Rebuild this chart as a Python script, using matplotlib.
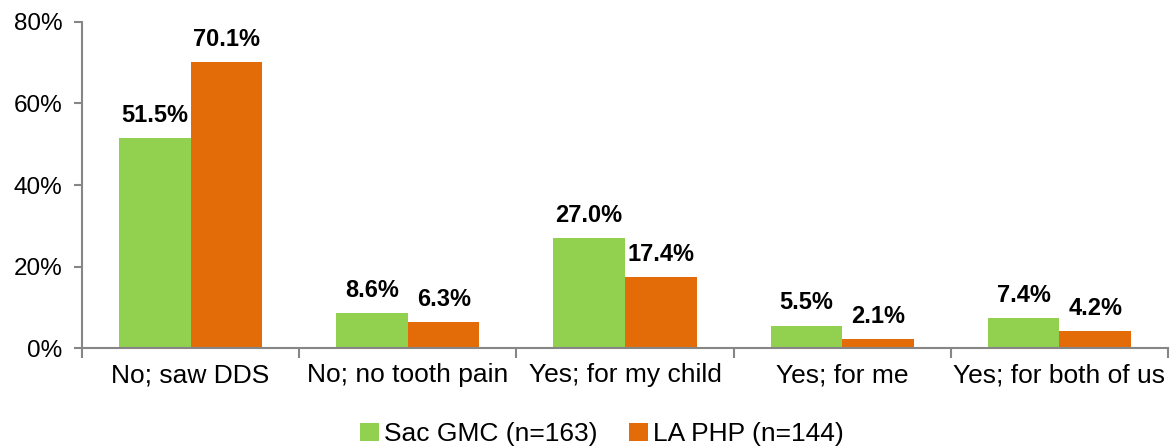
import numpy as np
import matplotlib
matplotlib.use("Agg")
import matplotlib.pyplot as plt
from matplotlib.ticker import FuncFormatter

categories = ["No; saw DDS", "No; no tooth pain", "Yes; for my child", "Yes; for me", "Yes; for both of us"]
sac_gmc = [51.5, 8.6, 27.0, 5.5, 7.4]
la_php = [70.1, 6.3, 17.4, 2.1, 4.2]
series_names = ["Sac GMC (n=163)", "LA PHP (n=144)"]

plt.rcParams['font.family'] = ['Liberation Sans', 'DejaVu Sans']

green = "#92D050"
orange = "#E36C09"
axis_gray = "#868686"

fig = plt.figure(figsize=(11.76, 4.48), dpi=100)
ax = fig.add_axes([82/1176, 1-348/448, (1168-82)/1176, (348-22)/448])

x = np.arange(len(categories))
w = 0.33
b1 = ax.bar(x - w/2, sac_gmc, w, color=green, label=series_names[0])
b2 = ax.bar(x + w/2, la_php, w, color=orange, label=series_names[1])

for bars, vals in [(b1, sac_gmc), (b2, la_php)]:
    for bar, v in zip(bars, vals):
        ax.annotate("%.1f%%" % v, xy=(bar.get_x() + bar.get_width()/2, v),
                    xytext=(0, 8), textcoords="offset points",
                    ha="center", va="bottom", fontsize=17, fontweight="bold")

ax.set_xlim(-0.5, len(categories) - 0.5)
ax.set_ylim(0, 80)
ax.set_yticks([0, 20, 40, 60, 80])
ax.yaxis.set_major_formatter(FuncFormatter(lambda v, p: "%d%%" % v))

# category labels in the middle, tick marks between categories
ax.set_xticks(np.arange(len(categories) + 1) - 0.5)
ax.set_xticklabels([])
ax.set_xticks(x, minor=True)
ax.set_xticklabels(categories, minor=True)
ax.tick_params(axis="x", which="minor", length=0, labelsize=19, pad=11)
ax.tick_params(axis="x", which="major", length=7, width=1.5, color=axis_gray, direction="out")
ax.tick_params(axis="y", length=6, width=1.5, color=axis_gray, labelsize=17.5, pad=8)

for s in ["top", "right"]:
    ax.spines[s].set_visible(False)
for s in ["left", "bottom"]:
    ax.spines[s].set_color(axis_gray)
    ax.spines[s].set_linewidth(1.5)

fig.legend(loc="center", bbox_to_anchor=(602/1176, 1-434/448), ncol=2, frameon=False,
           fontsize=19, handlelength=0.7, handleheight=0.7, handletextpad=0.2,
           columnspacing=1.2)

fig.savefig("out.png", dpi=100)
